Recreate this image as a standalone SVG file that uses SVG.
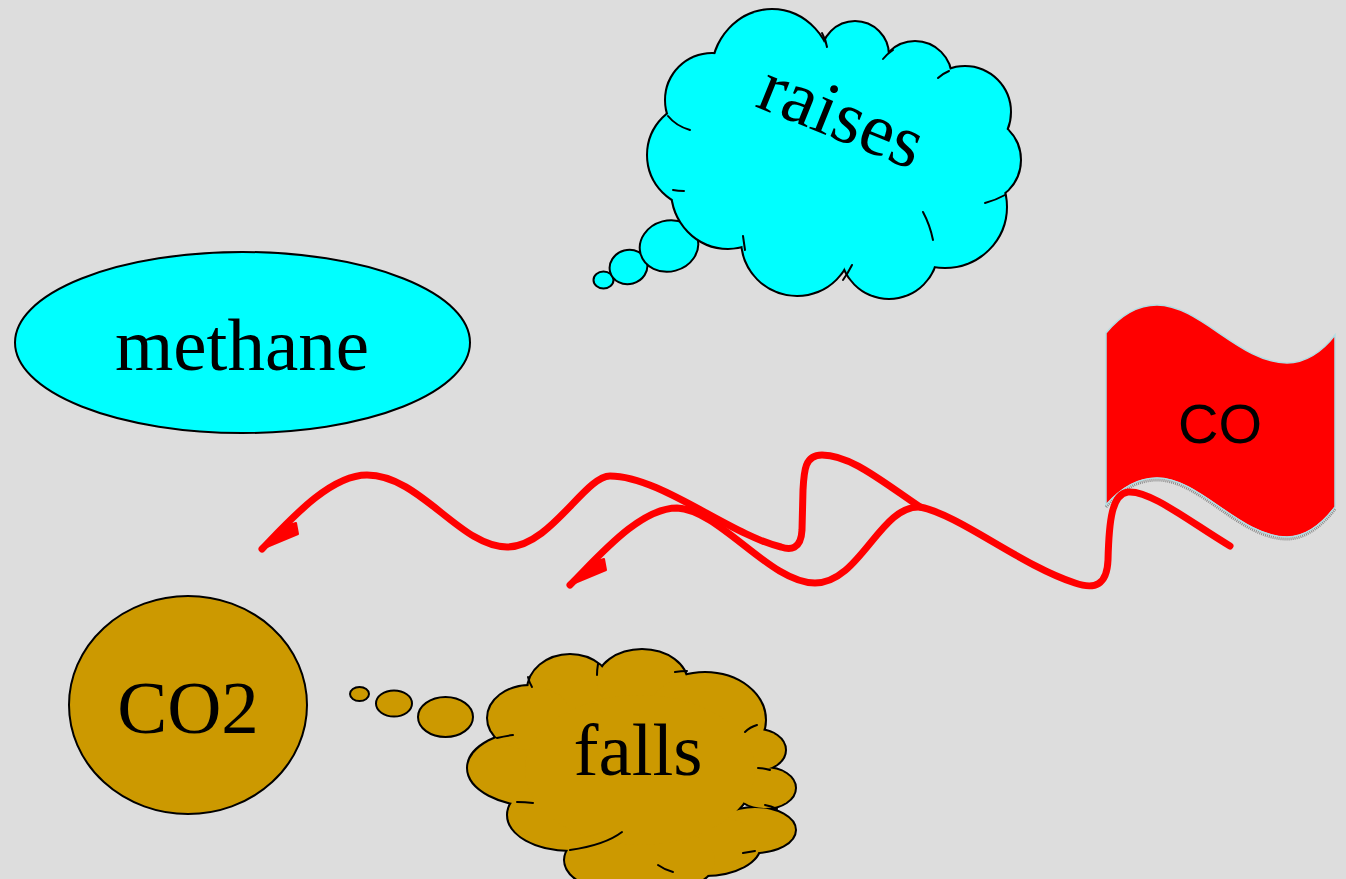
<svg xmlns="http://www.w3.org/2000/svg" xmlns:xlink="http://www.w3.org/1999/xlink" width="1346" height="879" viewBox="0 0 1346 879">
<style>
.lbl{font-family:"Liberation Serif","Times New Roman",serif;font-size:75px;fill:#000;text-anchor:middle}
.sans{font-family:"Liberation Sans",Arial,sans-serif;font-size:56px;fill:#000;text-anchor:middle}
.node{stroke:#000;stroke-width:2}
.cyan{fill:#00ffff}
.gold{fill:#cc9900}
.outl{stroke:#000;stroke-width:4}
.nofill{stroke:none}
.inner{fill:none;stroke:#000;stroke-width:2;stroke-linecap:round}
.edge{fill:none;stroke:#ff0000;stroke-width:7;stroke-linecap:round;stroke-linejoin:round}
.head{fill:#ff0000;stroke:#ff0000;stroke-width:2;stroke-linejoin:round}
</style>
<defs>
<g id="cloudR">
<ellipse cx="772" cy="75" rx="60" ry="65"/>
<circle cx="855" cy="55" r="33"/>
<circle cx="915" cy="78" r="36"/>
<circle cx="965" cy="112" r="45"/>
<circle cx="978" cy="160" r="42"/>
<ellipse cx="945" cy="207" rx="61" ry="60"/>
<circle cx="889" cy="250" r="48"/>
<circle cx="797" cy="240" r="55"/>
<ellipse cx="728" cy="190" rx="56" ry="58"/>
<circle cx="700" cy="155" r="52"/>
<circle cx="712" cy="100" r="46"/>
<ellipse cx="840" cy="160" rx="140" ry="95"/>
</g>
<g id="cloudF">
<ellipse cx="570" cy="690" rx="42" ry="35"/>
<ellipse cx="642" cy="683" rx="45" ry="33"/>
<ellipse cx="705" cy="720" rx="60" ry="47"/>
<ellipse cx="757" cy="750" rx="28" ry="20"/>
<ellipse cx="765" cy="788" rx="30" ry="20"/>
<ellipse cx="755" cy="830" rx="40" ry="22"/>
<ellipse cx="705" cy="845" rx="55" ry="30"/>
<ellipse cx="640" cy="860" rx="75" ry="35"/>
<ellipse cx="570" cy="815" rx="62" ry="35"/>
<ellipse cx="540" cy="768" rx="72" ry="38"/>
<ellipse cx="530" cy="718" rx="42" ry="32"/>
<ellipse cx="640" cy="770" rx="115" ry="75"/>
</g>
</defs>
<rect x="0" y="0" width="1346" height="879" fill="#dddddd"/>

<g id="methane">
<ellipse class="node cyan" cx="242.5" cy="342.5" rx="227.5" ry="90.5"/>
<text class="lbl" x="242" y="370">methane</text>
</g>

<g id="co2">
<ellipse class="node gold" cx="188" cy="705" rx="119" ry="109"/>
<text class="lbl" x="188" y="733">CO2</text>
</g>

<g id="raises">
<ellipse class="node cyan" cx="603.5" cy="280" rx="10" ry="8.5"/>
<ellipse class="node cyan" cx="628.5" cy="267" rx="19" ry="17" transform="rotate(-15 628.5 267)"/>
<ellipse class="node cyan" cx="669" cy="246" rx="29.5" ry="25.5" transform="rotate(-15 669 246)"/>
<use xlink:href="#cloudR" class="cyan outl"/>
<use xlink:href="#cloudR" class="cyan nofill"/>
<path class="inner" d="M822,33 Q826,40 827,47"/>
<path class="inner" d="M893,50 Q887,54 883,59"/>
<path class="inner" d="M938,78 Q942,74 949,71"/>
<path class="inner" d="M985,203 Q996,200 1005,195"/>
<path class="inner" d="M923,212 Q930,225 933,240"/>
<path class="inner" d="M852,265 Q848,273 843,280"/>
<path class="inner" d="M743,236 Q744,243 745,250"/>
<path class="inner" d="M673,190 Q678,191 684,191"/>
<path class="inner" d="M668,116 Q676,126 690,130"/>
<text class="lbl" transform="translate(833 138) rotate(22)" x="0" y="0">raises</text>
</g>

<g id="falls">
<ellipse class="node gold" cx="359.5" cy="694" rx="9.5" ry="7"/>
<ellipse class="node gold" cx="394" cy="703.5" rx="18" ry="13"/>
<ellipse class="node gold" cx="445.5" cy="717" rx="27.5" ry="20"/>
<use xlink:href="#cloudF" class="gold outl"/>
<use xlink:href="#cloudF" class="gold nofill"/>
<path class="inner" d="M532,687 Q529,682 528,677"/>
<path class="inner" d="M597,675 Q597,670 598,664"/>
<path class="inner" d="M675,672 Q681,671 687,671"/>
<path class="inner" d="M745,732 Q750,727 757,725"/>
<path class="inner" d="M758,768 Q764,768 770,770"/>
<path class="inner" d="M765,805 Q771,806 777,809"/>
<path class="inner" d="M743,853 Q749,852 755,851"/>
<path class="inner" d="M658,865 Q665,870 673,872"/>
<path class="inner" d="M622,832 Q605,845 570,850"/>
<path class="inner" d="M533,803 Q525,802 517,802"/>
<path class="inner" d="M513,735 Q505,736 497,738"/>
<text class="lbl" x="638" y="775">falls</text>
</g>

<g id="co">
<path d="M1106,333 C1120,316 1137,305 1157,305 C1200,305 1240,363 1287,363 C1305,363 1322,352 1335,335 L1335,507 C1322,524 1305,537 1287,537 C1240,537 1200,478 1157,478 C1137,478 1120,489 1106,505 Z" fill="#ff0000" stroke="#b4dde3" stroke-width="1.5"/>
<path d="M1106,507 C1120,491 1137,480 1157,480 C1200,480 1240,539 1287,539 C1305,539 1322,526 1335,509" fill="none" stroke="#8a8a8a" stroke-width="3" stroke-dasharray="1 1"/>
<path d="M1106,505 C1120,489 1137,478 1157,478 C1200,478 1240,537 1287,537 C1305,537 1322,524 1335,507" fill="none" stroke="#b4dde3" stroke-width="1.2"/>
<text class="sans" x="1220" y="443">CO</text>
</g>

<g id="connectors">
<path class="edge" d="M1230,546 C1190,522 1150,490 1128,492 C1112,494 1109,520 1108,560 C1107,585 1095,590 1075,583 C1020,565 960,515 920,507 C880,505 860,583 815,583 C770,583 720,510 677,508 C640,508 600,555 570,585"/>
<path class="edge" d="M920,507 C880,480 850,455 822,455 C805,455 804,470 803,490 L802,530 C801,550 790,550 781,547 C730,535 660,476 610,476 C585,476 550,547 507,547 C460,547 420,475 367,475 C330,475 290,520 262,549"/>
<polygon class="head" points="262,549 289,525 296,523 298,534"/>
<polygon class="head" points="570,585 597,561 604,559 606,570"/>
</g>
</svg>
